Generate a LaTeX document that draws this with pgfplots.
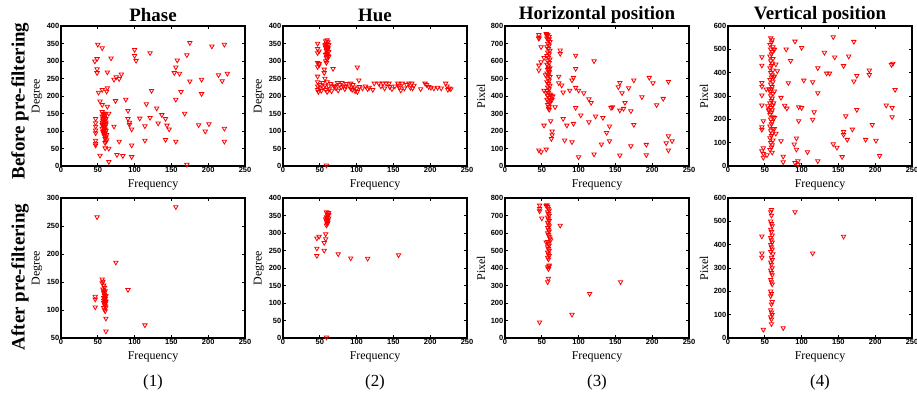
\documentclass[border=0pt]{standalone}
\usepackage{fontspec}
\setmainfont{Liberation Serif}
\setsansfont{Liberation Sans}
\usepackage{pgfplots}
\pgfplotsset{compat=1.18}
\pgfplotsset{
 sc/.style={
  scale only axis, width=184bp, height=140bp, anchor=south west,
  xmin=0, xmax=250, xtick={0,50,...,250},
  tick align=inside, major tick length=3bp,
  axis line style={line width=1.2bp},
  every tick/.style={black, line width=0.7bp},
  tick label style={font=\sffamily\bfseries\fontsize{7.5}{7.5}\selectfont},
  /pgf/number format/assume math mode=true,
  xticklabel style={inner sep=1.5bp},
  yticklabel style={inner sep=1.5bp},
  xlabel=Frequency,
  label style={font=\fontsize{12}{12}\selectfont},
  xlabel style={at={(axis description cs:0.5,-0.135)}, anchor=center},
  ylabel style={at={(axis description cs:-0.13,0.5)}, anchor=center},
 },
 pt/.style={only marks, mark=triangle, mark size=2.5bp,
  mark options={rotate=180, draw=red, line width=0.8bp, fill=white}}
}
\begin{document}
\begin{tikzpicture}
\path[use as bounding box] (0,0) rectangle (917bp,394bp);
% ---------------- Row 1 ----------------
\begin{axis}[sc, at={(61bp,228bp)}, ymin=0, ymax=400, ytick={0,50,...,400}, ylabel=Degree]
\addplot[pt] coordinates {
(50,347)(56,337)(46,299)(49,306)(49,277)(49,266)(68,308)(63,268)(63,223)(62,213)(56,218)(51,210)
(53,185)(56,175)(63,170)(65,150)(74,186)(72,247)(75,254)(79,249)(82,262)(88,190)(91,158)(91,135)
(93,124)(93,118)(96,105)(72,113)(79,70)(96,59)(76,32)(84,29)(96,26)(53,30)(65,12)(60,51)(65,50)
(60,66)(100,332)(100,315)(102,301)(121,323)(123,215)(116,177)(107,136)(121,138)(114,114)(114,73)
(130,165)(137,146)(132,122)(142,135)(144,116)(147,105)(142,75)(156,70)(154,266)(156,282)(158,302)
(161,264)(156,190)(163,212)(168,150)(171,317)(175,352)(175,242)(171,4)(191,247)(191,206)(187,117)
(196,99)(201,120)(205,342)(214,260)(219,243)(222,347)(226,264)(222,107)(222,70)
(47,135)(47,123)(47,113)(47,102)(47,94)(47,73)(47,64)(47,59)
(56,155)(57,150)(58,146)(56,142)(59,138)(57,134)(60,131)(58,128)(56,125)(59,122)(61,119)(57,116)
(60,113)(58,110)(56,107)(59,104)(61,101)(57,98)(60,95)(58,92)(62,89)(59,86)(61,82)(60,78)(62,74)
(61,70)(58,140)(60,145)(61,125)(57,120)(59,112)(58,100)(60,105)(57,130)(61,135)(59,150)(56,118)(58,95)
};
\end{axis}
\begin{axis}[sc, at={(283bp,228bp)}, ymin=0, ymax=400, ytick={0,50,...,400}, ylabel=Degree]
\addplot[pt] coordinates {
(47,350)(47,335)(49,328)(47,323)(47,295)(49,292)(47,283)(49,288)(47,256)(56,266)(56,276)(59,295)
(68,278)(101,282)(103,245)(59,2)(57,250)
(58,300)(60,305)(59,310)(61,315)(58,318)(60,322)(62,326)(59,330)(61,334)(58,338)(60,342)(62,346)
(59,350)(61,354)(58,357)(60,360)(57,345)(61,338)(59,320)(62,312)(60,332)(58,347)
(47,240)(47,228)(47,218)(48,212)(50,232)(50,222)(52,215)(54,238)(55,225)(57,230)(58,218)(60,240)
(60,212)(62,228)(63,220)(65,235)(66,214)(69,230)(72,222)(74,238)(75,216)(77,232)(79,225)(80,238)
(82,228)(84,220)(86,235)(90,228)(92,222)(94,218)(95,232)(97,225)(98,214)(100,220)(101,212)(104,226)
(108,222)(112,228)(115,220)(117,224)(122,218)(124,236)(130,236)(133,228)(136,236)(138,222)(140,236)
(144,236)(145,226)(148,220)(152,228)(156,236)(158,224)(160,216)(162,236)(165,222)(168,232)(171,236)
(173,224)(175,236)(178,230)(187,220)(193,236)(195,232)(198,226)(201,224)(205,222)(210,224)(215,222)
(221,236)(223,228)(224,218)(226,222)(228,220)(157,230)(176,222)(92,236)(70,226)(85,228)
};
\end{axis}
\begin{axis}[sc, at={(505bp,228bp)}, ymin=0, ymax=800, ytick={0,100,...,800}, ylabel=Pixel]
\addplot[pt] coordinates {
(46,750)(46,735)(46,728)(49,680)(46,575)(46,547)(49,594)(53,619)(53,432)(56,417)(53,232)(46,90)
(49,80)(56,95)(62,257)(64,198)(64,177)(63,156)(68,337)(75,661)(75,642)(73,512)(73,474)(77,461)
(79,421)(79,270)(84,232)(81,147)(88,432)(91,490)(93,505)(96,556)(96,632)(96,448)(96,333)(93,242)
(91,137)(100,432)(103,290)(107,417)(100,51)(114,383)(117,362)(114,251)(121,600)(123,284)(121,67)
(133,276)(131,124)(138,190)(142,227)(144,333)(146,337)(142,143)(154,451)(156,476)(159,417)(156,318)
(161,328)(163,362)(168,446)(171,314)(175,490)(175,236)(171,114)(156,61)(186,394)(192,122)(192,63)
(196,505)(201,474)(206,349)(215,385)(222,482)(222,171)(219,131)(227,143)(222,90)
(56,755)(58,750)(60,740)(57,730)(59,720)(61,710)(58,700)(60,690)(57,680)(59,670)(61,660)(58,650)
(60,640)(57,630)(59,620)(61,610)(58,600)(60,590)(57,580)(59,570)(61,560)(58,550)(60,540)(57,530)
(59,520)(61,510)(58,500)(60,490)(57,480)(59,470)(61,460)(58,450)(60,440)(57,430)(59,420)(61,410)
(58,400)(60,390)(57,380)(59,370)(61,360)(58,350)(60,340)(59,330)(60,322)(62,405)(63,398)(64,380)
(65,400)(62,375)(55,520)(57,745)(60,725)(59,555)(60,535)
};
\end{axis}
\begin{axis}[sc, at={(728bp,228bp)}, ymin=0, ymax=600, ytick={0,100,...,600}, ylabel=Pixel]
\addplot[pt] coordinates {
(46,467)(46,431)(46,357)(46,341)(46,303)(46,260)(48,193)(46,167)(46,156)(48,77)(46,64)(48,53)(48,36)
(53,47)(52,329)(54,257)(55,239)(63,499)(65,436)(67,407)(63,384)(63,207)(63,160)(65,139)(72,107)
(72,293)(77,259)(80,247)(79,500)(85,451)(82,356)(75,41)(75,17)(91,534)(90,93)(93,119)(93,71)(91,14)
(95,21)(95,6)(100,507)(103,367)(96,253)(100,249)(96,193)(108,60)(115,360)(115,199)(117,231)(122,420)
(122,313)(122,21)(131,486)(134,397)(138,397)(143,553)(145,466)(143,94)(148,79)(155,39)(157,429)
(157,147)(157,134)(160,214)(162,113)(164,470)(171,533)(171,363)(175,387)(175,241)(169,157)(187,113)
(192,410)(192,391)(196,177)(201,109)(206,44)(215,260)(222,434)(224,439)(223,250)(223,210)(227,327)
(58,548)(60,540)(59,530)(57,520)(61,510)(58,500)(60,490)(59,480)(57,470)(61,460)(58,450)(60,440)
(59,430)(57,420)(61,410)(58,400)(60,390)(59,380)(57,370)(61,360)(58,350)(60,340)(59,330)(57,320)
(61,310)(58,300)(60,290)(59,280)(57,270)(61,260)(58,250)(60,240)(59,230)(57,220)(61,210)(58,200)
(60,190)(59,180)(57,170)(61,160)(58,150)(60,140)(59,130)(57,120)(61,110)(58,100)(60,90)(59,80)
(57,70)(60,58)(62,380)(62,500)(56,330)(63,320)(62,270)(56,240)
};
\end{axis}
% ---------------- Row 2 ----------------
\begin{axis}[sc, at={(61bp,56bp)}, ymin=50, ymax=300, ytick={50,100,...,300}, ylabel=Degree]
\addplot[pt] coordinates {
(49,266)(156,284)(74.5,185)(91,136)(114,73)(61,62)(61,85)(46.5,124)(46.5,119)(46.5,105)
(56,155)(57,151)(56,148)(58,144)(59,140)(57,137)(60,134)(58,131)(59,128)(60,125)(58,122)(59,119)
(60,116)(58,113)(59,110)(60,107)(58,104)(59,101)(60,98)(58,135)(60,120)(59,126)(58,117)(60,111)
(59,132)(61,105)(61,115)(61,125)
};
\end{axis}
\begin{axis}[sc, at={(283bp,56bp)}, ymin=0, ymax=400, ytick={0,50,...,400}, ylabel=Degree]
\addplot[pt] coordinates {
(46,235)(46,256)(46,285)(49,290)(56,272)(56,250)(58,297)(58,283)(75,240)(92,228)(115,227)(157,237)
(59,2)(59,322)(60,326)(61,330)(59,334)(60,338)(62,342)(59,346)(61,350)(60,354)(62,358)(59,360)
(61,336)(60,344)(62,352)(58,340)(60,330)
};
\end{axis}
\begin{axis}[sc, at={(505bp,56bp)}, ymin=0, ymax=800, ytick={0,100,...,800}, ylabel=Pixel]
\addplot[pt] coordinates {
(47,758)(47,739)(47,725)(50,684)(47,90)(56,547)(75,643)(91,134)(115,253)(157,320)
(57,760)(58,750)(59,740)(60,730)(58,720)(59,710)(60,700)(58,690)(59,680)(60,670)(58,660)(59,650)
(60,640)(58,630)(59,620)(60,610)(58,600)(59,590)(60,580)(61,570)(62,560)(58,550)(59,540)(60,530)
(58,520)(59,510)(60,500)(58,490)(59,480)(60,470)(58,460)(59,450)(60,415)(58,405)(59,395)(60,410)
(59,340)(58,320)(56,755)
};
\end{axis}
\begin{axis}[sc, at={(728bp,56bp)}, ymin=0, ymax=600, ytick={0,100,...,600}, ylabel=Pixel]
\addplot[pt] coordinates {
(46,436)(46,363)(46,345)(48,36)(75,43)(91,540)(115,363)(157,435)(61,360)
(59,550)(58,540)(59,525)(58,500)(59,490)(60,480)(58,465)(59,455)(60,440)(58,430)(59,420)(60,410)
(58,400)(59,390)(60,380)(58,370)(59,345)(60,335)(58,325)(59,315)(60,300)(58,290)(59,280)(60,270)
(58,250)(59,240)(60,230)(58,200)(59,190)(58,180)(60,155)(59,145)(58,120)(59,110)(60,100)(58,90)
(59,80)(59,60)
};
\end{axis}
% ---------------- Texts ----------------
\begin{scope}[every node/.style={font=\bfseries\fontsize{19}{19}\selectfont, inner sep=0pt}]
\node at (153bp,379bp) {Phase};
\node at (375bp,379bp) {Hue};
\node at (597bp,379bp) {Horizontal position};
\node at (820bp,379bp) {Vertical position};
\node[rotate=90] at (20bp,293bp) {Before pre-filtering};
\node[rotate=90] at (20bp,117bp) {After pre-filtering};
\end{scope}
\begin{scope}[every node/.style={font=\fontsize{17}{17}\selectfont, inner sep=0pt}]
\node at (153bp,12bp) {(1)};
\node at (375bp,12bp) {(2)};
\node at (597bp,12bp) {(3)};
\node at (820bp,12bp) {(4)};
\end{scope}
\end{tikzpicture}
\end{document}
